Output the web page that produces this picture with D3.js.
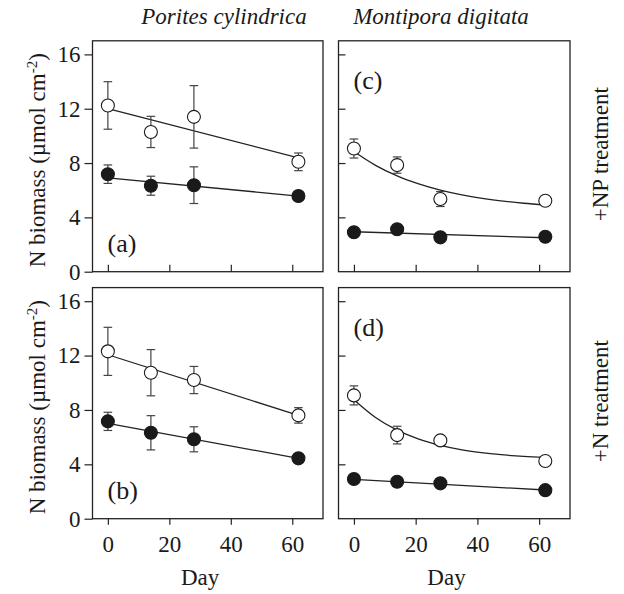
<!DOCTYPE html>
<html><head><meta charset="utf-8">
<script src="https://cdn.jsdelivr.net/npm/d3@7"></script>
<style>body{margin:0;background:#fff}svg{display:block}text{font-family:"Liberation Serif","Times New Roman",serif;fill:#1a1a1a}</style>
</head><body><svg id="c" width="624" height="594"></svg>
<script>
const days = [0, 14, 28, 62];
const xTicks = [0, 20, 40, 60];
const yTicks = [0, 4, 8, 12, 16];
const species = ["Porites cylindrica", "Montipora digitata"];
const treatments = ["+NP treatment", "+N treatment"];
const panelLabels = ["(a)", "(c)", "(b)", "(d)"];

// (a) Porites, +NP
const aOpen = [12.24, 10.29, 11.4, 8.09];
const aOpenErr = [1.75, 1.15, 2.3, 0.65];
const aFilled = [7.18, 6.33, 6.37, 5.57];
const aFilledErr = [0.68, 0.7, 1.35, 0.2];
const aOpenFit = [12.0, 8.38];
const aFilledFit = [6.91, 5.57];
// (c) Montipora, +NP
const cOpen = [9.07, 7.85, 5.35, 5.22];
const cOpenErr = [0.7, 0.6, 0.55, 0.2];
const cFilled = [2.9, 3.12, 2.53, 2.57];
const cFilledErr = [0.15, 0.15, 0.15, 0.15];
const cFilledFit = [2.94, 2.5];
// (b) Porites, +N
const bOpen = [12.31, 10.74, 10.2, 7.6];
const bOpenErr = [1.77, 1.7, 1.0, 0.57];
const bFilled = [7.16, 6.32, 5.84, 4.44];
const bFilledErr = [0.67, 1.26, 0.92, 0.2];
const bOpenFit = [12.06, 7.6];
const bFilledFit = [7.01, 4.44];
// (d) Montipora, +N
const dOpen = [9.07, 6.15, 5.76, 4.24];
const dOpenErr = [0.7, 0.65, 0.2, 0.2];
const dFilled = [2.92, 2.72, 2.6, 2.1];
const dFilledErr = [0.15, 0.15, 0.15, 0.15];
const dFilledFit = [2.9, 2.11];
// fitted decay curves
const curveDays = [0, 7, 14, 21, 28, 35, 45, 55, 62];
const cOpenCurve = [8.85, 7.83, 7.05, 6.46, 6.0, 5.65, 5.29, 5.04, 4.91];
const dOpenCurve = [8.75, 7.44, 6.51, 5.86, 5.40, 5.07, 4.77, 4.58, 4.5];
const fitDays = [0, 62];

const svg = d3.select("#c");
const cols = [{x0: 92.5, x1: 323}, {x0: 338.5, x1: 570}];
const rows = [{y0: 40.8, y1: 271.7}, {y0: 287.6, y1: 518.7}];

const panels = [
  {row:0,col:0,label:panelLabels[0],open:aOpen,openErr:aOpenErr,filled:aFilled,filledErr:aFilledErr,
   openLine:{d:fitDays,v:aOpenFit,curve:false},filledLine:{d:fitDays,v:aFilledFit}},
  {row:0,col:1,label:panelLabels[1],open:cOpen,openErr:cOpenErr,filled:cFilled,filledErr:cFilledErr,
   openLine:{d:curveDays,v:cOpenCurve,curve:true},filledLine:{d:fitDays,v:cFilledFit}},
  {row:1,col:0,label:panelLabels[2],open:bOpen,openErr:bOpenErr,filled:bFilled,filledErr:bFilledErr,
   openLine:{d:fitDays,v:bOpenFit,curve:false},filledLine:{d:fitDays,v:bFilledFit}},
  {row:1,col:1,label:panelLabels[3],open:dOpen,openErr:dOpenErr,filled:dFilled,filledErr:dFilledErr,
   openLine:{d:curveDays,v:dOpenCurve,curve:true},filledLine:{d:fitDays,v:dFilledFit}},
];

const ink = "#222";
const fs = 23;
panels.forEach(p => {
  const c = cols[p.col], r = rows[p.row];
  const x = d3.scaleLinear().domain([-5, 70]).range([c.x0, c.x1]);
  const y = d3.scaleLinear().domain([0, 17]).range([r.y1, r.y0]);
  const g = svg.append("g");

  // x axis
  const xa = (p.row === 1 ? d3.axisBottom(x).tickSize(6).tickPadding(11)
                          : d3.axisBottom(x).tickSize(-7).tickFormat(""))
             .tickValues(xTicks).tickSizeOuter(0);
  const gx = g.append("g").attr("transform", `translate(0,${r.y1})`).call(xa);
  gx.select(".domain").remove();
  gx.selectAll("line").attr("stroke", ink).attr("stroke-width", 1.2);
  gx.selectAll("text").attr("font-size", fs).attr("fill", "#1a1a1a");

  // y axis
  const ya = (p.col === 0 ? d3.axisLeft(y).tickSize(8).tickPadding(4)
                          : d3.axisLeft(y).tickSize(-7).tickFormat(""))
             .tickValues(yTicks).tickSizeOuter(0);
  const gy = g.append("g").attr("transform", `translate(${c.x0},0)`).call(ya);
  gy.select(".domain").remove();
  gy.selectAll("line").attr("stroke", ink).attr("stroke-width", 1.2);
  gy.selectAll("text").attr("font-size", fs).attr("fill", "#1a1a1a");
  if (p.col === 1) gy.selectAll(".tick").filter(d => d === 0).remove();

  // frame
  g.append("rect").attr("x", c.x0).attr("y", r.y0)
    .attr("width", c.x1 - c.x0).attr("height", r.y1 - r.y0)
    .attr("fill", "none").attr("stroke", ink).attr("stroke-width", 1.3);

  // fit lines
  const ln = d3.line().x(d => x(d[0])).y(d => y(d[1]));
  const ol = p.openLine;
  g.append("path").datum(ol.d.map((d, i) => [d, ol.v[i]]))
    .attr("d", ol.curve ? ln.curve(d3.curveMonotoneX) : ln.curve(d3.curveLinear))
    .attr("fill", "none").attr("stroke", ink).attr("stroke-width", 1.3);
  const fl = p.filledLine;
  g.append("path").datum(fl.d.map((d, i) => [d, fl.v[i]]))
    .attr("d", d3.line().x(d => x(d[0])).y(d => y(d[1])))
    .attr("fill", "none").attr("stroke", ink).attr("stroke-width", 1.3);

  // error bars
  const series = [{v: p.open, e: p.openErr, fill: "#fff"}, {v: p.filled, e: p.filledErr, fill: "#1a1a1a"}];
  series.forEach(s => {
    days.forEach((d, i) => {
      const cx = x(d), lo = y(s.v[i] - s.e[i]), hi = y(s.v[i] + s.e[i]);
      const eb = g.append("g").attr("stroke", "#444").attr("stroke-width", 1.2);
      eb.append("line").attr("x1", cx).attr("x2", cx).attr("y1", lo).attr("y2", hi);
      eb.append("line").attr("x1", cx - 4.3).attr("x2", cx + 4.3).attr("y1", lo).attr("y2", lo);
      eb.append("line").attr("x1", cx - 4.3).attr("x2", cx + 4.3).attr("y1", hi).attr("y2", hi);
    });
  });
  series.forEach(s => {
    g.selectAll(null).data(days).enter().append("circle")
      .attr("cx", d => x(d)).attr("cy", (d, i) => y(s.v[i])).attr("r", 6.5)
      .attr("fill", s.fill).attr("stroke", "#1a1a1a").attr("stroke-width", 1.1);
  });

  // panel letter
  g.append("text").attr("x", c.x0 + 15)
    .attr("y", p.col === 0 ? r.y1 - 20 : r.y0 + 48)
    .attr("font-size", 26).attr("fill", "#1a1a1a").text(p.label);
});

// species titles
svg.append("text").attr("x", 224).attr("y", 24).attr("text-anchor", "middle")
  .attr("font-size", fs).attr("font-style", "italic").text(species[0]);
svg.append("text").attr("x", 441).attr("y", 24).attr("text-anchor", "middle")
  .attr("font-size", fs).attr("font-style", "italic").text(species[1]);

// day labels
[cols[0], cols[1]].forEach(c => {
  const x = d3.scaleLinear().domain([-5, 70]).range([c.x0, c.x1]);
  svg.append("text").attr("x", x(30)).attr("y", 585).attr("text-anchor", "middle")
    .attr("font-size", fs).text("Day");
});

// y labels
rows.forEach(r => {
  const t = svg.append("text").attr("text-anchor", "middle").attr("font-size", fs)
    .attr("transform", `translate(45,${(r.y0 + r.y1) / 2 + 4}) rotate(-90)`);
  t.append("tspan").text("N biomass (µmol cm");
  t.append("tspan").attr("dy", -8).attr("font-size", 15).text("-2");
  t.append("tspan").attr("dy", 8).text(")");
});

// treatment labels
rows.forEach((r, i) => {
  svg.append("text").attr("text-anchor", "middle").attr("font-size", fs)
    .attr("transform", `translate(608,${(r.y0 + r.y1) / 2 - 2}) rotate(-90)`)
    .text(treatments[i]);
});
</script></body></html>
